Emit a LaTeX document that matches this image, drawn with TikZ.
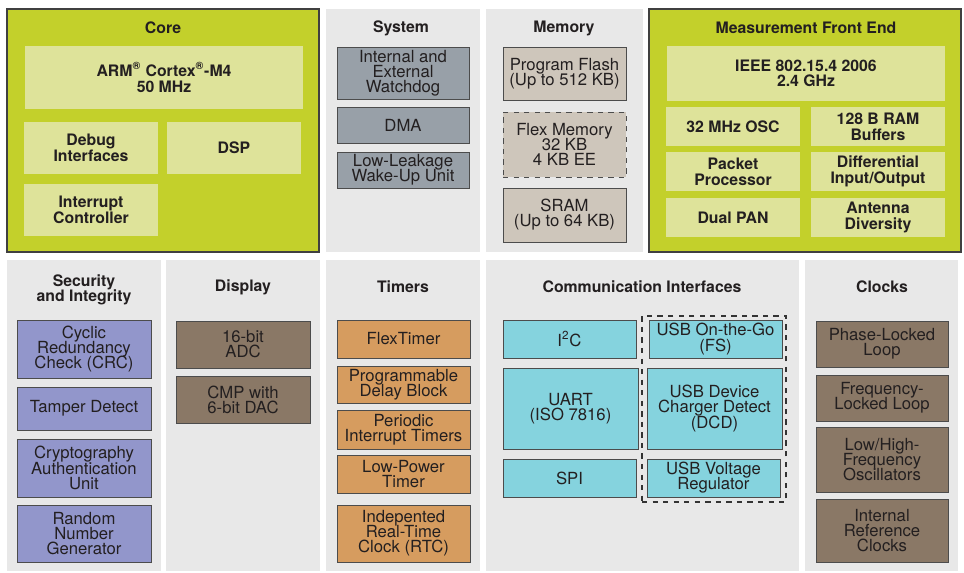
\documentclass[tikz,border=0pt]{standalone}
\usepackage{fontspec}
\setmainfont{TeX Gyre Heros}
\usetikzlibrary{positioning, fit}
\definecolor{panelgreen}{HTML}{C3D02B}
\definecolor{lightgreen}{HTML}{DEE39A}
\definecolor{panelgray}{HTML}{E8E8E8}
\definecolor{sysgray}{HTML}{98A0A8}
\definecolor{memtaupe}{HTML}{CEC6BB}
\definecolor{seclav}{HTML}{9296CB}
\definecolor{timorange}{HTML}{D69C5F}
\definecolor{comcyan}{HTML}{85D3DE}
\definecolor{clkbrown}{HTML}{8A7866}
\definecolor{inkdark}{HTML}{231F20}
\newcommand{\tightlines}{\setlength{\lineskiplimit}{-10pt}}

\begin{document}
\begin{tikzpicture}[x=0.02cm, y=-0.02cm,
    font={\fontsize{9.5}{8.6}\selectfont\tightlines}, text=inkdark,
    greenpanel/.style={fill=panelgreen, draw=black!75, line width=0.6pt, inner sep=0pt},
    graypanel/.style={fill=panelgray, inner sep=0pt},
    title/.style={font={\fontsize{9}{8.6}\selectfont\bfseries\tightlines}, align=center},
    sz/.style 2 args={minimum width=#1*0.02cm, minimum height=#2*0.02cm},
    corebox/.style={fill=lightgreen, inner sep=0pt, align=center, font={\fontsize{9}{8.9}\selectfont\bfseries\tightlines}},
    blk/.style={draw=black!70, line width=0.5pt, inner sep=0pt, align=center},
    sysbox/.style={blk, fill=sysgray},
    membox/.style={blk, fill=memtaupe},
    secbox/.style={blk, fill=seclav},
    timbox/.style={blk, fill=timorange},
    combox/.style={blk, fill=comcyan},
    clkbox/.style={blk, fill=clkbrown}]
  \useasboundingbox (0,0) rectangle (964,572);

  % panels
  \node[greenpanel, fit={(7,9) (319,252)}] (core) {};
  \node[graypanel, fit={(326,9) (480,252)}] (system) {};
  \node[graypanel, fit={(486,9) (643,252)}] (memory) {};
  \node[greenpanel, fit={(649,9) (961,252)}] (mfe) {};
  \node[graypanel, fit={(7,260) (161,571)}] (security) {};
  \node[graypanel, fit={(166,260) (320,571)}] (display) {};
  \node[graypanel, fit={(326,260) (480,571)}] (timers) {};
  \node[graypanel, fit={(486,260) (799,571)}] (comm) {};
  \node[graypanel, fit={(805,260) (958,571)}] (clocks) {};

  % titles
  \node[title] (coretitle) at (163,28) {Core};
  \node[title] (systitle) at (401,28) {System};
  \node[title] (memtitle) at (564,28) {Memory};
  \node[title] (mfetitle) at (806,28) {Measurement Front End};
  \node[title] (sectitle) at (84,290) {Security\\and Integrity};
  \node[title] (disptitle) at (243,287) {Display};
  \node[title] (timtitle) at (403,287) {Timers};
  \node[title] (comtitle) at (642,287) {Communication Interfaces};
  \node[title] (clktitle) at (882,287) {Clocks};

  % core
  \node[corebox, sz={278}{63}] (arm) at (164,77.5) {ARM\textsuperscript{\textregistered} Cortex\textsuperscript{\textregistered}-M4\\50 MHz};
  \node[corebox, sz={134}{52}] (debug) at (91,148) {Debug\\Interfaces};
  \node[corebox, sz={134}{52}] (dsp) at (234,148) {DSP};
  \node[corebox, sz={134}{52}] (intc) at (91,210) {Interrupt\\Controller};

  % system
  \node[sysbox, sz={132}{52}] (wdog) at (403,73) {Internal and\\External\\Watchdog};
  \node[sysbox, sz={132}{36}] (dma) at (403,125) {DMA};
  \node[sysbox, sz={132}{36}] (llwu) at (403,170) {Low-Leakage\\Wake-Up Unit};

  % memory
  \node[membox, sz={123}{53}] (flash) at (564.5,73.5) {Program Flash\\(Up to 512 KB)};
  \node[membox, dashed, sz={123}{65}] (flexmem) at (564.5,144.5) {Flex Memory\\32 KB\\4 KB EE};
  \node[membox, sz={123}{54}] (sram) at (564.5,215) {SRAM\\(Up to 64 KB)};

  % measurement front end
  \node[corebox, sz={278}{55}] (ieee) at (806,73.5) {IEEE 802.15.4 2006\\2.4 GHz};
  \node[corebox, sz={134}{39}] (osc) at (733,126.5) {32 MHz OSC};
  \node[corebox, sz={134}{39}] (rambuf) at (878,126.5) {128 B RAM\\Buffers};
  \node[corebox, sz={134}{39}] (packet) at (733,171.5) {Packet\\Processor};
  \node[corebox, sz={134}{39}] (diffio) at (878,171.5) {Differential\\Input/Output};
  \node[corebox, sz={134}{39}] (dualpan) at (733,217.5) {Dual PAN};
  \node[corebox, sz={134}{39}] (antenna) at (878,217.5) {Antenna\\Diversity};

  % security and integrity
  \node[secbox, sz={134}{58}] (crc) at (84,349) {Cyclic\\Redundancy\\Check (CRC)};
  \node[secbox, sz={134}{43}] (tamper) at (84,408.5) {Tamper Detect};
  \node[secbox, sz={134}{58}] (crypto) at (84,468) {Cryptography\\Authentication\\Unit};
  \node[secbox, sz={134}{57}] (rng) at (84,533.5) {Random\\Number\\Generator};

  % display
  \node[clkbox, sz={134}{47}] (adc) at (243,344.5) {16-bit\\ADC};
  \node[clkbox, sz={134}{47}] (cmp) at (243,399.5) {CMP with\\6-bit DAC};

  % timers
  \node[timbox, sz={133}{38}] (ftm) at (403.5,339) {FlexTimer};
  \node[timbox, sz={133}{37}] (pdb) at (403.5,384.5) {Programmable\\Delay Block};
  \node[timbox, sz={133}{39}] (pit) at (403.5,429.5) {Periodic\\Interrupt Timers};
  \node[timbox, sz={133}{38}] (lptmr) at (403.5,474) {Low-Power\\Timer};
  \node[timbox, sz={133}{57}] (rtc) at (403.5,533.5) {Indepented\\Real-Time\\Clock (RTC)};

  % communication interfaces
  \node[combox, sz={133}{38}] (iic) at (569.5,339) {I\textsuperscript{2}C};
  \node[combox, sz={135}{81}] (uart) at (570.5,408.5) {UART\\(ISO 7816)};
  \node[combox, sz={133}{38}] (spi) at (569.5,478) {SPI};
  \node[draw=black!80, dashed, line width=0.6pt, inner sep=0pt, fit={(642,316) (786,502)}] (usbgroup) {};
  \node[combox, sz={133}{38}] (otg) at (715.5,339) {USB On-the-Go\\(FS)};
  \node[combox, sz={135}{81}] (dcd) at (714.5,408.5) {USB Device\\Charger Detect\\(DCD)};
  \node[combox, sz={133}{38}] (usbreg) at (713.5,478) {USB Voltage\\Regulator};

  % clocks
  \node[clkbox, sz={132}{46}] (pll) at (882,344) {Phase-Locked\\Loop};
  \node[clkbox, sz={132}{46}] (fll) at (882,398) {Frequency-\\Locked Loop};
  \node[clkbox, sz={132}{65}] (oscs) at (882,459.5) {Low/High-\\Frequency\\Oscillators};
  \node[clkbox, sz={132}{63}] (irc) at (882,530.5) {Internal\\Reference\\Clocks};
\end{tikzpicture}
\end{document}
